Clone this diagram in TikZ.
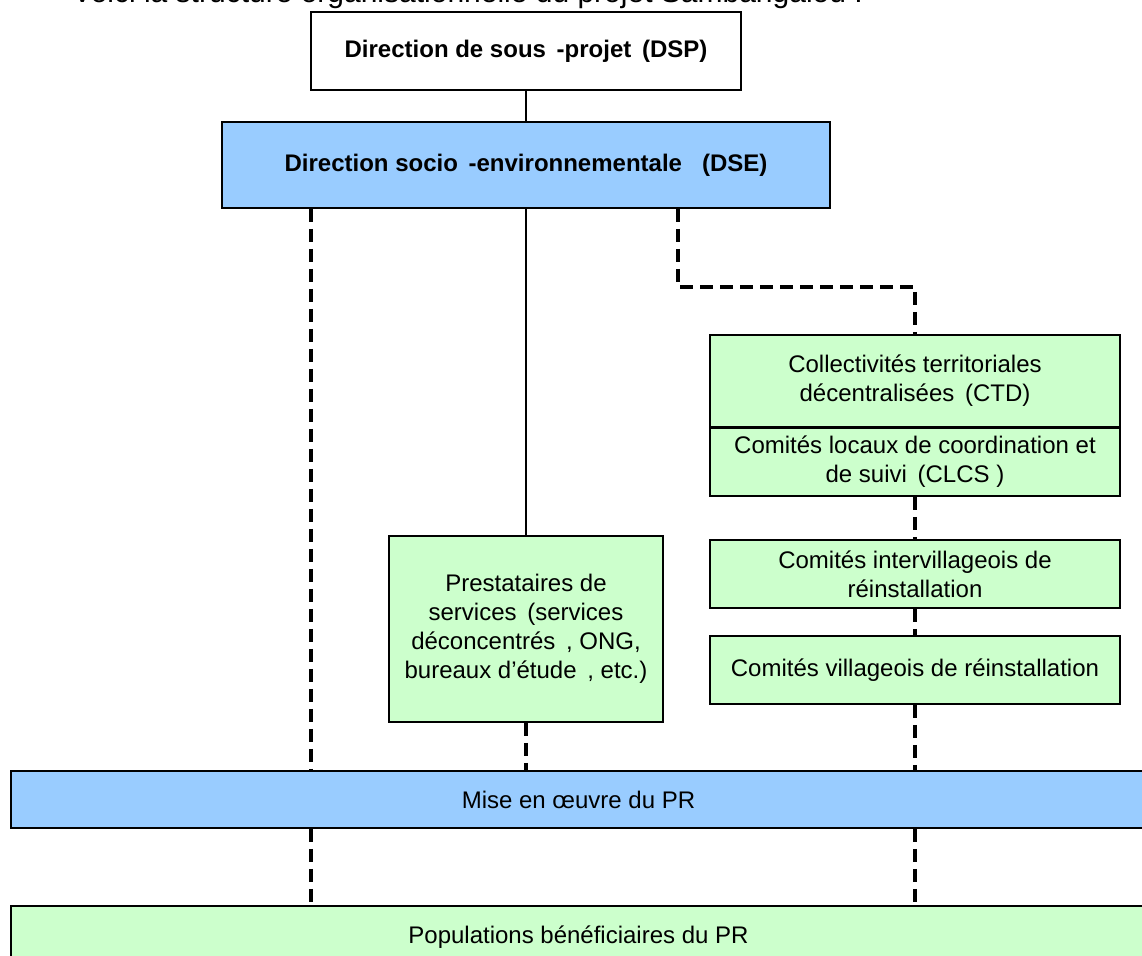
\documentclass[tikz,border=0pt]{standalone}
\usepackage{fontspec}
\setmainfont{Liberation Sans}
\usepackage{tikz}
\usetikzlibrary{positioning}
\usepackage{xcolor}
\definecolor{paleblue}{HTML}{99CCFF}
\definecolor{palegreen}{HTML}{CCFFCC}

\begin{document}
\begin{tikzpicture}[
  x=0.5pt, y=-0.5pt,
  box/.style={rectangle, draw=black, line width=1pt,
              minimum width=205pt, minimum height=34pt,
              inner sep=0pt, align=center,
              font=\fontsize{12}{14.5}\selectfont},
  headbox/.style={box, font=\fontsize{12}{14}\selectfont\bfseries},
  link/.style={line width=0.8pt},
  dashline/.style={line width=2pt, dash pattern=on 6.5pt off 3.5pt}
]
\useasboundingbox (0,0) rectangle (1142,956);
\clip (0,0) rectangle (1142,956);

% intro sentence, cut at the top of the page
\node[anchor=base west, inner sep=0pt, font=\fontsize{15}{18}\selectfont] (intro) at (72,3)
  {Voici la structure organisationnelle du projet Sambangalou :};

% direction
\node[headbox, fill=white, minimum width=215pt, minimum height=39pt] (dsp) at (526,51)
  {Direction de sous \,-projet \,(DSP)};
\node[headbox, fill=paleblue, minimum width=304pt, minimum height=43pt] (dse) at (526,165)
  {Direction socio \,-environnementale \ \ (DSE)};

% right column
\node[box, fill=palegreen, minimum height=46pt] (ctd) at (915,381)
  {Collectivités territoriales\\ décentralisées \,(CTD)};
\node[box, fill=palegreen, below=-0.5pt of ctd] (clcs)
  {Comités locaux de coordination et\\ de suivi \,(CLCS )};
\node[box, fill=palegreen] (inter) at (915,574)
  {Comités intervillageois de\\ réinstallation};
\node[box, fill=palegreen] (vill) at (915,670)
  {Comités villageois de réinstallation};

% middle column
\node[box, fill=palegreen, minimum width=137pt, minimum height=93pt] (prest) at (526,629)
  {Prestataires de\\ services \,(services\\ déconcentrés \,, ONG,\\ bureaux d’étude \,, etc.)};

% bands
\node[box, fill=paleblue, minimum width=567.5pt, minimum height=28.5pt] (mise) at (578.5,799.5)
  {Mise en œuvre du PR};
\node[box, fill=palegreen, minimum width=567.5pt, minimum height=31pt] (pop) at (578.5,937)
  {Populations bénéficiaires du PR};

\coordinate (lx) at (311,0);
\coordinate (bend) at (678,287);

% links
\draw[link] (dsp.south) -- (dse.north);
\draw[link] (dse.south) -- (prest.north);
\draw[dashline] (dse.south -| lx) -- (mise.north -| lx);
\draw[dashline] (dse.south -| bend) -- (bend) -| (ctd.north);
\draw[dashline] (clcs.south) -- (inter.north);
\draw[dashline] (inter.south) -- (vill.north);
\draw[dashline] (vill.south) -- (mise.north -| vill.south);
\draw[dashline] (prest.south) -- (mise.north -| prest.south);
\draw[dashline] (mise.south -| lx) -- (pop.north -| lx);
\draw[dashline] (mise.south -| vill.south) -- (pop.north -| vill.south);

\end{tikzpicture}
\end{document}
